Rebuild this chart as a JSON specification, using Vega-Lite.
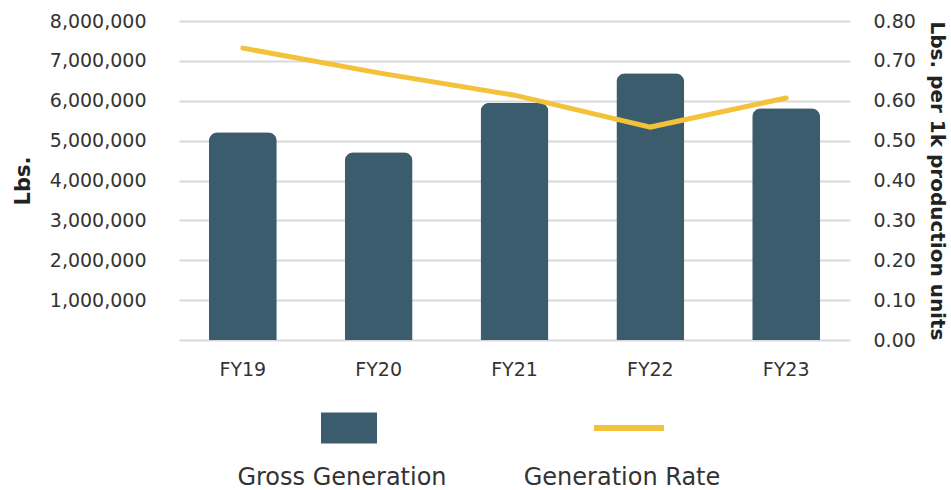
{
  "$schema": "https://vega.github.io/schema/vega-lite/v6.json",
  "width": 671,
  "height": 319,
  "autosize": {"type": "none"},
  "padding": {"left": 179, "top": 21, "right": 101, "bottom": 150},
  "background": "white",
  "config": {
    "view": {"stroke": null},
    "font": "DejaVu Sans",
    "legend": {"layout": {"bottom": {"anchor": "middle"}}},
    "axis": {
      "domain": false,
      "ticks": false,
      "labelFontSize": 19,
      "labelColor": "#333333",
      "titleColor": "#222222",
      "titleFontSize": 20,
      "titleFontWeight": "bold"
    }
  },
  "data": {
    "values": [
      {"year": "FY19", "gross": 5210000, "rate": 0.732},
      {"year": "FY20", "gross": 4710000, "rate": 0.67},
      {"year": "FY21", "gross": 5950000, "rate": 0.614},
      {"year": "FY22", "gross": 6690000, "rate": 0.534},
      {"year": "FY23", "gross": 5810000, "rate": 0.607}
    ]
  },
  "encoding": {
    "x": {
      "field": "year",
      "type": "nominal",
      "scale": {"paddingInner": 0.5, "paddingOuter": 0.22},
      "axis": {"title": null, "labelAngle": 0, "labelPadding": 20, "labelBaseline": "top", "grid": false}
    }
  },
  "layer": [
    {
      "mark": {"type": "bar", "cornerRadiusTopLeft": 9, "cornerRadiusTopRight": 9},
      "encoding": {
        "y": {
          "field": "gross",
          "type": "quantitative",
          "scale": {"domain": [0, 8000000]},
          "axis": {
            "title": "Lbs.",
            "titleFontSize": 21,
            "values": [0, 1000000, 2000000, 3000000, 4000000, 5000000, 6000000, 7000000, 8000000],
            "format": ",d",
            "labelExpr": "datum.value == 0 ? '' : datum.label",
            "labelPadding": 33,
            "titlePadding": 16,
            "grid": true,
            "gridColor": "#d9d9d9",
            "gridWidth": 2
          }
        },
        "color": {
          "datum": "Gross Generation",
          "type": "nominal",
          "scale": {"domain": ["Gross Generation", "Generation Rate"], "range": ["#3b5c6c", "#f3c13a"]},
          "legend": {
            "title": null,
            "orient": "bottom",
            "direction": "horizontal",
            "offset": 14,
            "symbolSize": 4900,
            "labelFontSize": 24,
            "labelLimit": 400,
            "labelColor": "#333333",
            "labelFont": "DejaVu Sans",
            "columnPadding": 76,
            "encode": {
              "symbols": {
                "update": {
                  "x": {"value": 40},
                  "shape": {"signal": "datum.value === 'Gross Generation' ? 'M-0.8,-0.443H0.8V0.443H-0.8Z' : 'M-1,-0.086H1V0.086H-1Z'"},
                  "fill": {"signal": "datum.value === 'Gross Generation' ? '#3b5c6c' : '#f3c13a'"},
                  "strokeWidth": {"value": 0},
                  "opacity": {"value": 1}
                }
              },
              "labels": {
                "update": {
                  "x": {"value": 33},
                  "align": {"value": "center"},
                  "dy": {"value": 50}
                }
              }
            }
          }
        }
      }
    },
    {
      "mark": {"type": "line", "strokeWidth": 5, "strokeCap": "round"},
      "encoding": {
        "y": {
          "field": "rate",
          "type": "quantitative",
          "scale": {"domain": [0, 0.8]},
          "axis": {
            "orient": "right",
            "title": "Lbs. per 1k production units",
            "values": [0, 0.1, 0.2, 0.3, 0.4, 0.5, 0.6, 0.7, 0.8],
            "format": ".2f",
            "labelPadding": 23,
            "titlePadding": 11,
            "grid": false
          }
        },
        "color": {"datum": "Generation Rate", "type": "nominal"}
      }
    }
  ],
  "resolve": {"scale": {"y": "independent"}}
}
